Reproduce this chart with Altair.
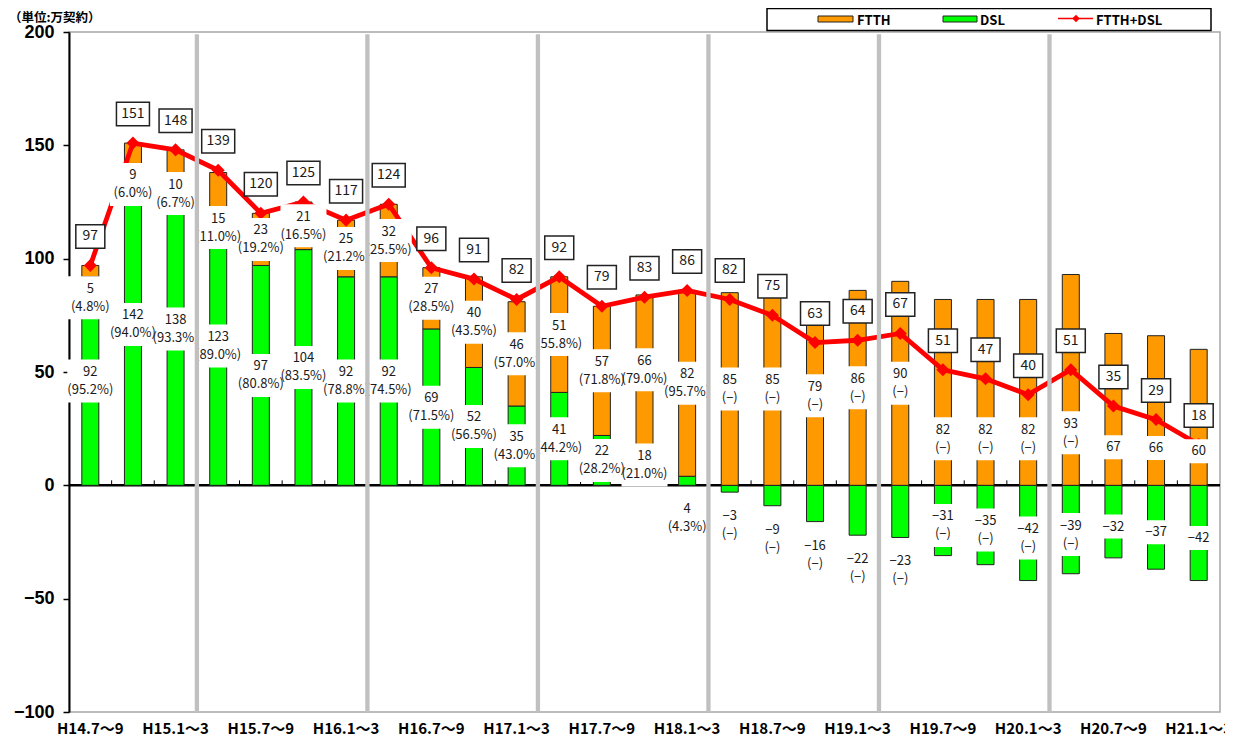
import altair as alt
import pandas as pd

# ---------------- data ----------------
quarters = ["H14.7～9", "H14.10～12", "H15.1～3", "H15.4～6", "H15.7～9", "H15.10～12",
            "H16.1～3", "H16.4～6", "H16.7～9", "H16.10～12", "H17.1～3", "H17.4～6",
            "H17.7～9", "H17.10～12", "H18.1～3", "H18.4～6", "H18.7～9", "H18.10～12",
            "H19.1～3", "H19.4～6", "H19.7～9", "H19.10～12", "H20.1～3", "H20.4～6",
            "H20.7～9", "H20.10～12", "H21.1～3"]
ftth = [5, 9, 10, 15, 23, 21, 25, 32, 27, 40, 46, 51, 57, 66, 82, 85, 85, 79, 86, 90,
        82, 82, 82, 93, 67, 66, 60]
dsl = [92, 142, 138, 123, 97, 104, 92, 92, 69, 52, 35, 41, 22, 18, 4, -3, -9, -16, -22,
       -23, -31, -35, -42, -39, -32, -37, -42]
total = [97, 151, 148, 139, 120, 125, 117, 124, 96, 91, 82, 92, 79, 83, 86, 82, 75, 63,
         64, 67, 51, 47, 40, 51, 35, 29, 18]
ftth_share = ["(4.8%)", "(6.0%)", "(6.7%)", "(11.0%)", "(19.2%)", "(16.5%)", "(21.2%)",
              "(25.5%)", "(28.5%)", "(43.5%)", "(57.0%)", "(55.8%)", "(71.8%)", "(79.0%)",
              "(95.7%)", "(−)", "(−)", "(−)", "(−)", "(−)", "(−)", "(−)", "(−)", "(−)",
              "", "", ""]
dsl_share = ["(95.2%)", "(94.0%)", "(93.3%)", "(89.0%)", "(80.8%)", "(83.5%)", "(78.8%)",
             "(74.5%)", "(71.5%)", "(56.5%)", "(43.0%)", "(44.2%)", "(28.2%)", "(21.0%)",
             "(4.3%)", "(−)", "(−)", "(−)", "(−)", "(−)", "(−)", "(−)", "(−)", "(−)",
             "", "", ""]
axis_labels = quarters[::2]
fiscal_starts = [q for q in quarters if ".4～6" in q]

unit_text = "（単位:万契約）"
series_names = ["FTTH", "DSL", "FTTH+DSL"]

# ---------------- layout ----------------
W, H = 1151, 680
YMIN, YMAX = -100, 200
PX = (YMAX - YMIN) / H          # data units per pixel
JP = "Noto Sans CJK JP"
ORANGE, GREEN, RED = "#ff9900", "#00ff00", "#ff0000"
TXT = "#1a1a1a"


def fmt(v):
    return str(v).replace("-", "−")


df = pd.DataFrame({"q": quarters, "ftth": ftth, "dsl": dsl, "total": total})
df["i"] = range(len(quarters))
df["base"] = df["dsl"].clip(lower=0)
df["ftop"] = df["base"] + df["ftth"]

# label boxes (white) inside/near the bars
rows = []
for i, q in enumerate(quarters):
    f, d = ftth[i], dsl[i]
    base = max(d, 0)
    # FTTH label
    if d >= 0 and f < 18:
        c = d - 21 * PX
    elif d < -25:
        c = 0.25 * f
    else:
        c = base + f / 2
    two = ftth_share[i] != ""
    half = (21.5 if two else 12) * PX
    rows.append(dict(q=q, lo=c - half, hi=c + half, v=fmt(f), p=ftth_share[i],
                     vy=c + (9 * PX if two else 0), py=c - 9 * PX, two=two))
    # DSL label
    if -25 < d < 8:
        c = min(d, 0) - 33 * PX
    elif d < 0:
        c = d / 2 - 5 * PX
    else:
        c = d / 2
    two = dsl_share[i] != ""
    half = (21.5 if two else 12) * PX
    rows.append(dict(q=q, lo=c - half, hi=c + half, v=fmt(d), p=dsl_share[i],
                     vy=c + (9 * PX if two else 0), py=c - 9 * PX, two=two))
lab = pd.DataFrame(rows)

tot = df[["q", "total"]].copy()
tot["c"] = tot["total"] + 29 * PX
tot["lo"] = tot["c"] - 11.75 * PX
tot["hi"] = tot["c"] + 11.75 * PX
tot["t"] = tot["total"].astype(str)
tot["three"] = tot["total"] >= 100

# ---------------- encodings ----------------
xscale = alt.Scale(domain=quarters, paddingInner=0, paddingOuter=0)
xaxis = alt.Axis(values=axis_labels, title=None, domain=False, ticks=False, labelAngle=0,
                 labelFont=JP, labelFontWeight="bold", labelFontSize=15, labelColor="black",
                 labelPadding=9, labelOverlap=False, labelBound=False, labelFlush=False)
yscale = alt.Scale(domain=[YMIN, YMAX], nice=False, zero=False)
yaxis = alt.Axis(values=[-100, -50, 0, 50, 100, 150, 200], title=None, grid=False,
                 domainColor="black", domainWidth=2, tickColor="black", tickWidth=1.5,
                 tickSize=6, labelFont="Liberation Sans", labelFontWeight="bold",
                 labelFontSize=18, labelColor="black", labelPadding=9)


def X(**kw):
    return alt.X("q:N", scale=xscale, axis=xaxis, **kw)


def Y(field):
    return alt.Y(field, type="quantitative", scale=yscale, axis=yaxis)


one = pd.DataFrame({"z": [0]})

zero_line = alt.Chart(one).mark_rule(color="black", strokeWidth=2.5).encode(y=Y("z"))

zero_ticks = alt.Chart(df).transform_filter("datum.i > 0").transform_calculate(
    z0="0", z1="2.2").mark_rule(color="black", strokeWidth=1).encode(
    x=X(bandPosition=0), y=Y("z0:Q"), y2="z1:Q")

dsl_bars = alt.Chart(df).mark_bar(width=17, color=GREEN, stroke="#222", strokeWidth=1).encode(
    x=X(), y=Y("dsl:Q"))
ftth_bars = alt.Chart(df).mark_bar(width=17, color=ORANGE, stroke="#222", strokeWidth=1).encode(
    x=X(), y=Y("base:Q"), y2="ftop:Q")

line = alt.Chart(df).mark_line(color=RED, strokeWidth=4.8).encode(x=X(), y=Y("total:Q"))
pts = alt.Chart(df).mark_point(shape="diamond", filled=True, size=170, color=RED,
                               opacity=1).encode(x=X(), y=Y("total:Q"))

box2 = alt.Chart(lab).transform_filter("datum.two").mark_bar(width=46, color="white").encode(
    x=X(), y=Y("lo:Q"), y2="hi:Q")
box1 = alt.Chart(lab).transform_filter("!datum.two").mark_bar(width=34, color="white").encode(
    x=X(), y=Y("lo:Q"), y2="hi:Q")
txt_v = alt.Chart(lab).mark_text(font=JP, fontSize=13, color=TXT, baseline="middle").encode(
    x=X(), y=Y("vy:Q"), text="v:N")
txt_p = alt.Chart(lab).transform_filter("datum.two").mark_text(
    font=JP, fontSize=13, color=TXT, baseline="middle").encode(
    x=X(), y=Y("py:Q"), text="p:N")

tbox3 = alt.Chart(tot).transform_filter("datum.three").mark_bar(
    width=33, color="white", stroke="#222", strokeWidth=1.5).encode(x=X(), y=Y("lo:Q"), y2="hi:Q")
tbox2 = alt.Chart(tot).transform_filter("!datum.three").mark_bar(
    width=29, color="white", stroke="#222", strokeWidth=1.5).encode(x=X(), y=Y("lo:Q"), y2="hi:Q")
ttxt = alt.Chart(tot).mark_text(font=JP, fontSize=14, color=TXT, baseline="middle").encode(
    x=X(), y=Y("c:Q"), text="t:N")

fiscal = alt.Chart(df).transform_filter(
    alt.FieldOneOfPredicate(field="q", oneOf=fiscal_starts)).transform_calculate(
    z0="-100", z1="199").mark_rule(color="#c0c0c0", strokeWidth=4.3).encode(
    x=X(bandPosition=0), y=Y("z0:Q"), y2="z1:Q")

# ---------------- legend & unit ----------------
lg = alt.Chart(one)
leg_box = lg.mark_rect(fill="white", stroke="black", strokeWidth=1.5).encode(
    x=alt.value(698), x2=alt.value(1142), y=alt.value(-23.5), y2=alt.value(-1.5))
leg_f = lg.mark_rect(fill=ORANGE, stroke="#222", strokeWidth=1).encode(
    x=alt.value(749), x2=alt.value(784), y=alt.value(-16), y2=alt.value(-10))
leg_d = lg.mark_rect(fill=GREEN, stroke="#222", strokeWidth=1).encode(
    x=alt.value(874), x2=alt.value(908), y=alt.value(-16), y2=alt.value(-10))
leg_l = lg.mark_rule(color=RED, strokeWidth=1.5).encode(
    x=alt.value(989), x2=alt.value(1024), y=alt.value(-13.5))
leg_p = lg.mark_point(shape="diamond", filled=True, size=55, color=RED, opacity=1).encode(
    x=alt.value(1007), y=alt.value(-13.5))
leg_style = dict(font=JP, fontWeight="bold", fontSize=13, color="black", align="left",
                 baseline="middle")
leg_t1 = lg.mark_text(**leg_style).encode(x=alt.value(788), y=alt.value(-11),
                                          text=alt.value(series_names[0]))
leg_t2 = lg.mark_text(**leg_style).encode(x=alt.value(911), y=alt.value(-11),
                                          text=alt.value(series_names[1]))
leg_t3 = lg.mark_text(**leg_style).encode(x=alt.value(1027), y=alt.value(-11),
                                          text=alt.value(series_names[2]))
unit_style = dict(leg_style, fontSize=12.5)
unit = lg.mark_text(**unit_style).encode(x=alt.value(-60), y=alt.value(-14),
                                         text=alt.value(unit_text))

chart = alt.layer(
    zero_line, zero_ticks, dsl_bars, ftth_bars, line, pts,
    box2, box1, txt_v, txt_p, fiscal, tbox3, tbox2, ttxt,
    leg_box, leg_f, leg_d, leg_l, leg_p, leg_t1, leg_t2, leg_t3, unit,
).properties(
    width=W, height=H,
    autosize=alt.AutoSizeParams(type="none"),
    padding={"left": 61, "top": 24, "right": 5, "bottom": 26},
    background="white",
).configure_view(stroke="#a6a6a6", strokeWidth=1.5)

chart.save("out.html", embed_options={"renderer": "svg", "actions": False})
